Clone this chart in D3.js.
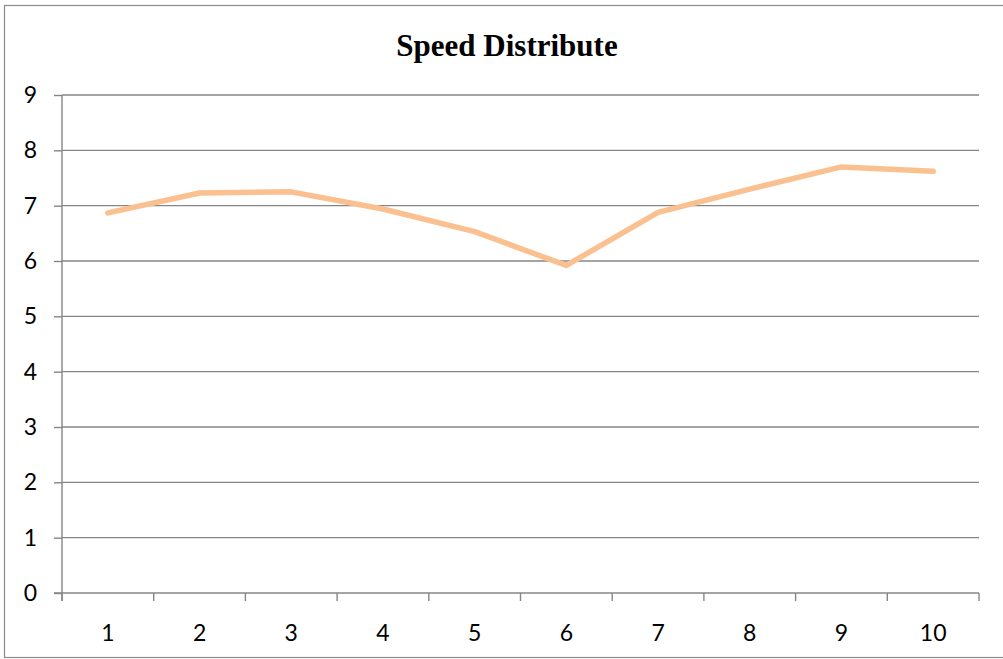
<!DOCTYPE html>
<html>
<head>
<meta charset="utf-8">
<script src="https://cdn.jsdelivr.net/npm/d3@7"></script>
<style>
  html, body { margin: 0; padding: 0; background: #fff; }
  svg { display: block; }
</style>
</head>
<body>
<svg id="chart" width="1003" height="659"></svg>
<script>
// Average speed per segment
const categories = ["1", "2", "3", "4", "5", "6", "7", "8", "9", "10"];
const speeds = [6.87, 7.23, 7.25, 6.94, 6.53, 5.92, 6.88, 7.30, 7.70, 7.62];
const yTicks = [0, 1, 2, 3, 4, 5, 6, 7, 8, 9];
const chartTitle = "Speed Distribute";

const svg = d3.select("#chart");
const W = 1003, H = 659;
const margin = { left: 62, right: 24, top: 95, bottom: 66 };
const labelFont = "Lato, 'Liberation Sans', Arial, sans-serif";

// Outer frame
svg.append("rect")
  .attr("x", 4.5).attr("y", 5.5)
  .attr("width", W + 2).attr("height", H - 7)
  .attr("fill", "#fff")
  .attr("stroke", "#8c8c8c").attr("stroke-width", 1.2);

const x = d3.scaleBand()
  .domain(categories)
  .range([margin.left, W - margin.right])
  .paddingInner(0).paddingOuter(0);

const y = d3.scaleLinear()
  .domain([0, 9])
  .range([H - margin.bottom, margin.top]);

// Horizontal gridlines
svg.append("g")
  .selectAll("line")
  .data(yTicks.filter(d => d > 0))
  .join("line")
  .attr("x1", margin.left).attr("x2", W - margin.right)
  .attr("y1", d => y(d)).attr("y2", d => y(d))
  .attr("stroke", "#868686").attr("stroke-width", 1.4);

// Y axis
const yAxis = svg.append("g")
  .attr("transform", `translate(${margin.left},0)`)
  .call(d3.axisLeft(y).tickValues(yTicks).tickSize(8).tickPadding(17).tickFormat(d3.format("d")));
yAxis.select(".domain").attr("stroke", "#868686").attr("stroke-width", 1.4)
  .attr("d", `M0,${y(0) + 8}V${y(9)}`);
yAxis.selectAll(".tick line").attr("stroke", "#868686").attr("stroke-width", 1.4);
yAxis.selectAll("text")
  .attr("font-family", labelFont)
  .attr("font-size", 23).attr("fill", "#000");

// X axis with boundary ticks between categories
const xAxisG = svg.append("g")
  .attr("transform", `translate(0,${y(0)})`);
xAxisG.append("line")
  .attr("x1", margin.left - 8).attr("x2", W - margin.right)
  .attr("stroke", "#868686").attr("stroke-width", 1.4);
const boundaries = categories.map(c => x(c)).concat([x(categories[categories.length - 1]) + x.bandwidth()]);
xAxisG.selectAll("line.b")
  .data(boundaries)
  .join("line")
  .attr("class", "b")
  .attr("x1", d => d).attr("x2", d => d)
  .attr("y1", 0).attr("y2", 8)
  .attr("stroke", "#868686").attr("stroke-width", 1.4);
xAxisG.selectAll("text")
  .data(categories)
  .join("text")
  .attr("x", d => x(d) + x.bandwidth() / 2)
  .attr("y", 48)
  .attr("text-anchor", "middle")
  .attr("font-family", labelFont)
  .attr("font-size", 23).attr("fill", "#000")
  .text(d => d);

// Speed line
const line = d3.line()
  .x((d, i) => x(categories[i]) + x.bandwidth() / 2)
  .y(d => y(d));
svg.append("path")
  .datum(speeds)
  .attr("d", line)
  .attr("fill", "none")
  .attr("stroke", "#fac090")
  .attr("stroke-width", 5.5)
  .attr("stroke-linejoin", "round")
  .attr("stroke-linecap", "round");

// Title
svg.append("text")
  .attr("x", 507).attr("y", 56)
  .attr("text-anchor", "middle")
  .attr("font-family", "'Liberation Serif', 'Times New Roman', serif")
  .attr("font-weight", "bold")
  .attr("font-size", 31)
  .attr("fill", "#000")
  .text(chartTitle);
</script>
</body>
</html>
